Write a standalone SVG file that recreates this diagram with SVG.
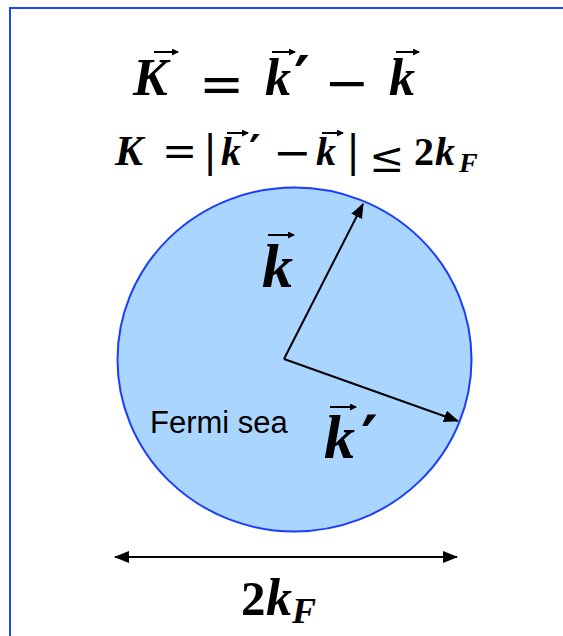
<svg xmlns="http://www.w3.org/2000/svg" width="563" height="636" viewBox="0 0 563 636">
<style>
.m{font-family:"Liberation Serif","Times New Roman",serif;font-style:italic;font-weight:bold;fill:#000}
.d{font-family:"Liberation Serif","Times New Roman",serif;font-weight:bold;fill:#000}
.o{font-family:"DejaVu Serif",serif;fill:#000}
.p{font-family:"DejaVu Serif",serif;font-weight:bold;fill:#000}
.ov{stroke:#000;stroke-width:2;fill:none}
.cn{stroke:#000;stroke-width:2;fill:none}
.lbl{font-family:"Liberation Sans",Arial,sans-serif;fill:#000}
</style>
<defs>
<marker id="ah" markerUnits="userSpaceOnUse" markerWidth="16" markerHeight="14" refX="14" refY="6" orient="auto-start-reverse">
<path d="M0,0 L15,6 L0,12 z" fill="#000"/>
</marker>
<marker id="va" markerUnits="userSpaceOnUse" markerWidth="8" markerHeight="8" refX="6" refY="3.5" orient="auto">
<path d="M0,0 L7,3.5 L0,7 z" fill="#000"/>
</marker>
</defs>
<rect id="frame" x="10" y="8" width="570" height="640" fill="none" stroke="#1a47ff" stroke-width="2"/>

<g id="eq1">
<text class="m" x="133" y="95" font-size="52">K</text>
<path class="ov" d="M154,52 L178,52" marker-end="url(#va)"/>
<text class="o" x="199" y="103" font-size="54">=</text>
<text class="m" x="265" y="95" font-size="52">k</text>
<path class="ov" d="M272,52 L295,52" marker-end="url(#va)"/>
<text class="p" x="294" y="99" font-size="60">′</text>
<text class="o" x="324" y="101" font-size="54">−</text>
<text class="m" x="389" y="95" font-size="52">k</text>
<path class="ov" d="M396,52 L419,52" marker-end="url(#va)"/>
</g>

<g id="eq2">
<text class="m" x="115" y="165" font-size="42">K</text>
<text class="o" x="162" y="166" font-size="42">=</text>
<text class="o" x="203" y="166" font-size="42">|</text>
<text class="m" x="221" y="165" font-size="40">k</text>
<path class="ov" d="M227,133 L248,133" marker-end="url(#va)"/>
<text class="p" x="249" y="167" font-size="44">′</text>
<text class="o" x="273" y="168" font-size="46">−</text>
<text class="m" x="316" y="165" font-size="40">k</text>
<path class="ov" d="M322,133 L343,133" marker-end="url(#va)"/>
<text class="o" x="346" y="166" font-size="42">|</text>
<text class="o" x="369" y="172" font-size="42">≤</text>
<text class="d" x="414" y="165" font-size="40">2</text>
<text class="m" x="435" y="165" font-size="40">k</text>
<text class="m" x="459" y="172" font-size="28">F</text>
</g>

<g id="fermi-sea">
<ellipse cx="294.5" cy="359.5" rx="177" ry="172" fill="#a9d5ff" stroke="#1a3cff" stroke-width="2"/>
<text class="lbl" x="150" y="433" font-size="31">Fermi sea</text>
</g>

<g id="label-k">
<text class="m" x="262" y="287" font-size="62">k</text>
<path class="ov" d="M268,235 L294,235" marker-end="url(#va)"/>
</g>

<g id="label-kprime">
<text class="m" x="324" y="458" font-size="62">k</text>
<path class="ov" d="M330,407 L356,407" marker-end="url(#va)"/>
<text class="p" x="361" y="461" font-size="64">′</text>
</g>

<g id="label-2kF">
<text class="d" x="241" y="615" font-size="49">2</text>
<text class="m" x="266" y="615" font-size="52">k</text>
<text class="m" x="292" y="623" font-size="36">F</text>
</g>

<g id="connectors">
<line class="cn" x1="284" y1="359" x2="363" y2="204" marker-end="url(#ah)"/>
<line class="cn" x1="284" y1="359" x2="458" y2="421" marker-end="url(#ah)"/>
<line class="cn" x1="115" y1="557" x2="457" y2="557" marker-start="url(#ah)" marker-end="url(#ah)"/>
</g>
</svg>
